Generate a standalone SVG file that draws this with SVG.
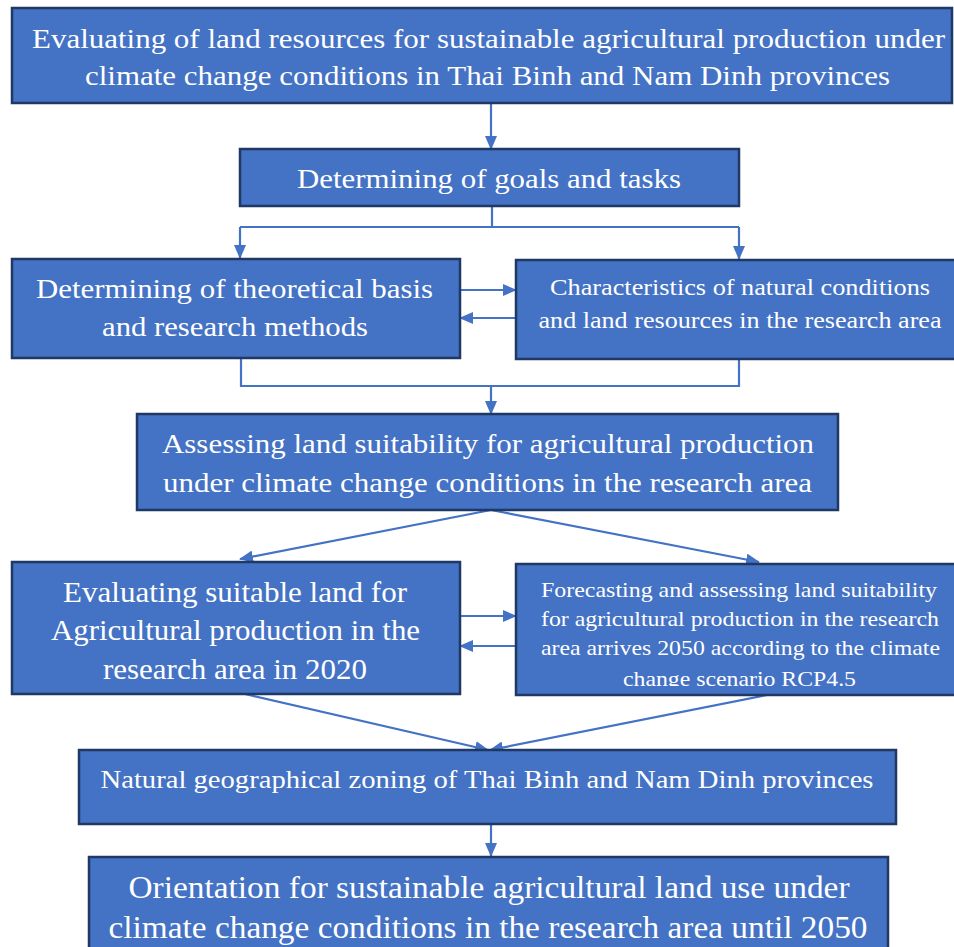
<svg xmlns="http://www.w3.org/2000/svg" width="954" height="947" viewBox="0 0 954 947">
<style>
.box{fill:#4472C4;stroke:#1F3864;stroke-width:2.5}
.t{font-family:"Liberation Serif","Times New Roman",serif;fill:#FFFFFF;text-anchor:middle}
.c{fill:none;stroke:#4472C4;stroke-width:2.2}
</style>
<defs>
<marker id="ah" markerUnits="userSpaceOnUse" markerWidth="14" markerHeight="12" refX="13" refY="6" orient="auto">
<path d="M0,0 L14,6 L0,12 Z" fill="#4472C4"/>
</marker>
<clipPath id="clip7"><rect x="516" y="564" width="444" height="122"/></clipPath>
</defs>
<rect width="954" height="947" fill="#FFFFFF"/>
<g id="connectors">
<path class="c" d="M491,104 V149" marker-end="url(#ah)"/>
<path class="c" d="M492,206 V227 M240,227 H739"/>
<path class="c" d="M240,227 V258" marker-end="url(#ah)"/>
<path class="c" d="M739,227 V259" marker-end="url(#ah)"/>
<path class="c" d="M460,290 H516" marker-end="url(#ah)"/>
<path class="c" d="M516,318 H460" marker-end="url(#ah)"/>
<path class="c" d="M241,358 V386 H739 V359"/>
<path class="c" d="M491,386 V414" marker-end="url(#ah)"/>
<path class="c" d="M491,510 L240,559" marker-end="url(#ah)"/>
<path class="c" d="M491,510 L759,562" marker-end="url(#ah)"/>
<path class="c" d="M460,616 H516" marker-end="url(#ah)"/>
<path class="c" d="M516,646 H460" marker-end="url(#ah)"/>
<path class="c" d="M245,694 L488,750" marker-end="url(#ah)"/>
<path class="c" d="M767,695 L490,750" marker-end="url(#ah)"/>
<path class="c" d="M491,824 V856" marker-end="url(#ah)"/>
</g>
<g id="n1">
<rect class="box" x="12" y="8" width="940" height="95"/>
<text class="t" x="488.5" y="48" font-size="28" textLength="913" lengthAdjust="spacingAndGlyphs">Evaluating of land resources for sustainable agricultural production under</text>
<text class="t" x="487.5" y="85" font-size="28" textLength="805" lengthAdjust="spacingAndGlyphs">climate change conditions in Thai Binh and Nam Dinh provinces</text>
</g>
<g id="n2">
<rect class="box" x="240" y="149" width="499" height="57"/>
<text class="t" x="489" y="188" font-size="28" textLength="384" lengthAdjust="spacingAndGlyphs">Determining of goals and tasks</text>
</g>
<g id="n3">
<rect class="box" x="12" y="259" width="448" height="99"/>
<text class="t" x="234.5" y="298" font-size="28" textLength="397" lengthAdjust="spacingAndGlyphs">Determining of theoretical basis</text>
<text class="t" x="235" y="336" font-size="28" textLength="266" lengthAdjust="spacingAndGlyphs">and research methods</text>
</g>
<g id="n4">
<rect class="box" x="516" y="260" width="448" height="99"/>
<text class="t" x="740" y="295" font-size="24" textLength="380" lengthAdjust="spacingAndGlyphs">Characteristics of natural conditions</text>
<text class="t" x="740" y="328" font-size="24" textLength="403" lengthAdjust="spacingAndGlyphs">and land resources in the research area</text>
</g>
<g id="n5">
<rect class="box" x="137" y="414" width="701" height="96"/>
<text class="t" x="488" y="453" font-size="28" textLength="652" lengthAdjust="spacingAndGlyphs">Assessing land suitability for agricultural production</text>
<text class="t" x="487.5" y="492" font-size="28" textLength="649" lengthAdjust="spacingAndGlyphs">under climate change conditions in the research area</text>
</g>
<g id="n6">
<rect class="box" x="12" y="562" width="448" height="132"/>
<text class="t" x="235" y="602" font-size="29" textLength="344" lengthAdjust="spacingAndGlyphs">Evaluating suitable land for</text>
<text class="t" x="235.5" y="640" font-size="29" textLength="369" lengthAdjust="spacingAndGlyphs">Agricultural production in the</text>
<text class="t" x="235" y="679" font-size="29" textLength="264" lengthAdjust="spacingAndGlyphs">research area in 2020</text>
</g>
<g id="n7">
<rect class="box" x="516" y="564" width="448" height="131"/>
<g clip-path="url(#clip7)">
<text class="t" x="739" y="597" font-size="22" textLength="396" lengthAdjust="spacingAndGlyphs">Forecasting and assessing land suitability</text>
<text class="t" x="740" y="626" font-size="22" textLength="398" lengthAdjust="spacingAndGlyphs">for agricultural production in the research</text>
<text class="t" x="740.5" y="655" font-size="22" textLength="399" lengthAdjust="spacingAndGlyphs">area arrives 2050 according to the climate</text>
<text class="t" x="739.5" y="686" font-size="22" textLength="233" lengthAdjust="spacingAndGlyphs">change scenario RCP4.5</text>
</g>
</g>
<g id="n8">
<rect class="box" x="79" y="750" width="817" height="74"/>
<text class="t" x="487" y="788" font-size="26" textLength="773" lengthAdjust="spacingAndGlyphs">Natural geographical zoning of Thai Binh and Nam Dinh provinces</text>
</g>
<g id="n9">
<rect class="box" x="89" y="857" width="799" height="100"/>
<text class="t" x="489" y="898" font-size="31" textLength="721" lengthAdjust="spacingAndGlyphs">Orientation for sustainable agricultural land use under</text>
<text class="t" x="488" y="938" font-size="31" textLength="759" lengthAdjust="spacingAndGlyphs">climate change conditions in the research area until 2050</text>
</g>
</svg>
